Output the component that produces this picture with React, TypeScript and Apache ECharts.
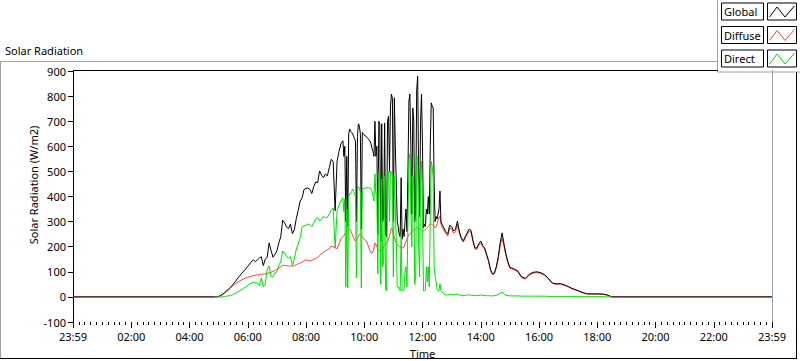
import React, { useEffect, useRef } from "react";
import * as echarts from "echarts";

// ---------- data (time in minutes after midnight) ----------
const xTickLabels = ["23:59", "02:00", "04:00", "06:00", "08:00", "10:00", "12:00", "14:00", "16:00", "18:00", "20:00", "22:00", "23:59"];
const seriesNames = ["Global", "Diffuse", "Direct"];

const timeMorning = [0, 288, 292, 296, 300, 304, 308, 312, 316, 320, 324, 328, 332, 336, 340, 344, 348, 352, 356, 360, 364, 368, 372, 376, 380, 384, 388, 392, 396, 400, 404, 408, 412, 416, 420, 424, 428, 432, 436, 440, 444, 448, 452, 456, 460, 464, 468, 472, 476, 480, 484, 488, 492, 496, 500, 504, 508, 512, 516, 520, 524, 528, 532, 536, 540, 544, 548, 552, 556];
const globalMorning = [0, 0, 0, 0, 2, 5, 10, 16, 24, 30, 38, 46, 55, 65, 76, 85, 95, 103, 112, 122, 131, 142, 147, 140, 148, 155, 160, 125, 150, 158, 215, 185, 158, 170, 183, 215, 240, 305, 295, 278, 272, 290, 252, 268, 312, 345, 382, 395, 428, 432, 434, 428, 412, 440, 458, 455, 502, 485, 475, 490, 482, 515, 548, 540, 343, 540, 580, 610, 622];
const diffuseMorning = [0, 0, 0, 0, 2, 5, 10, 15, 22, 27, 34, 42, 48, 54, 60, 64, 68, 72, 75, 78, 80, 83, 85, 86, 88, 88, 90, 91, 92, 94, 96, 98, 102, 105, 110, 114, 120, 126, 125, 124, 123, 123, 122, 124, 128, 132, 135, 138, 145, 147, 145, 143, 145, 150, 153, 157, 165, 172, 178, 183, 188, 192, 203, 200, 195, 192, 210, 232, 240];
const directMorning = [null, null, 0, 0, 0, 0, 0, 1, 3, 4, 5, 8, 12, 15, 20, 25, 30, 35, 40, 46, 52, 55, 58, 56, 55, 44, 76, 40, 52, 110, 123, 80, 80, 96, 100, 125, 140, 183, 175, 160, 155, 160, 125, 150, 190, 210, 235, 280, 283, 285, 290, 288, 280, 295, 310, 315, 302, 310, 320, 315, 318, 330, 345, 355, 195, 343, 365, 382, 395];

const timeMidday = [558, 560, 562, 564, 566, 568, 570, 572, 574, 576, 578, 580, 582, 584, 586, 588, 590, 592, 594, 596, 598, 600, 602, 604, 606, 608, 610, 612, 614, 616, 618, 620, 622, 624, 626, 628, 630, 632, 634, 636, 638, 640, 642, 644, 646, 648, 650, 652, 654, 656, 658, 660, 662, 664, 666, 668, 670, 672, 674, 676, 678, 680, 682, 684, 686, 688, 690, 692, 694, 696, 698, 700, 702, 704, 706, 708, 710, 712, 714, 716, 718, 720, 722, 724, 726, 728, 730, 732, 734, 736, 738, 740, 742, 744, 746, 748, 750, 752, 754, 756, 758, 760];
const globalMidday = [560, 600, 300, 560, 280, 650, 669, 660, 655, 649, 640, 630, 620, 300, 640, 690, 680, 650, 270, 655, 650, 645, 641, 640, 635, 630, 625, 620, 610, 590, 580, 560, 700, 560, 600, 250, 700, 690, 220, 690, 300, 320, 693, 250, 240, 700, 720, 500, 760, 808, 790, 300, 793, 600, 450, 300, 280, 250, 240, 475, 230, 270, 240, 300, 350, 260, 500, 780, 808, 600, 330, 753, 700, 300, 350, 820, 880, 500, 320, 700, 808, 600, 275, 290, 280, 350, 330, 400, 330, 600, 773, 760, 753, 450, 300, 320, 310, 330, 350, 422, 300, 290];
const diffuseMidday = [245, 250, 255, 262, 265, 268, 271, 265, 255, 245, 235, 225, 225, 230, 235, 240, 250, 250, 245, 240, 235, 230, 225, 223, 215, 205, 195, 183, 176, 175, 180, 195, 215, 210, 200, 190, 185, 183, 183, 185, 190, 200, 205, 210, 215, 220, 230, 245, 260, 275, 270, 250, 240, 225, 215, 211, 205, 200, 198, 196, 195, 195, 200, 210, 220, 230, 240, 248, 251, 255, 260, 265, 268, 270, 272, 275, 275, 272, 270, 268, 265, 263, 263, 265, 268, 272, 276, 280, 285, 290, 290, 288, 285, 280, 275, 280, 290, 305, 315, 322, 290, 280];
const directMidday = [340, 390, 40, 350, 36, 400, 410, 410, 420, 430, 420, 410, 400, 76, 435, 440, 430, 420, 36, 430, 430, 435, 430, 435, 435, 435, 435, 434, 430, 420, 400, 382, 490, 410, 410, 92, 500, 500, 50, 470, 120, 143, 480, 30, 24, 500, 500, 300, 500, 500, 480, 80, 480, 350, 230, 40, 40, 30, 24, 250, 24, 24, 30, 100, 120, 40, 300, 540, 570, 350, 200, 480, 450, 50, 80, 560, 560, 200, 80, 450, 540, 340, 24, 24, 30, 120, 60, 120, 40, 320, 540, 520, 470, 120, 80, 60, 30, 24, 24, 52, 24, 20];

const timeAfternoon = [764, 768, 772, 776, 780, 784, 788, 792, 796, 800, 804, 808, 812, 816, 820, 824, 828, 832, 836, 840, 844, 848, 852, 856, 860, 864, 868, 872, 876, 880, 884, 888, 892, 896, 900, 908, 916, 924, 932, 940, 948, 956, 964, 972, 980, 988, 996, 1004, 1012, 1020, 1028, 1036, 1044, 1052, 1060, 1068, 1076, 1084, 1092, 1100, 1106, 1110, 1440];
const globalAfternoon = [275, 260, 250, 285, 280, 262, 270, 302, 260, 235, 223, 240, 255, 270, 265, 225, 195, 195, 212, 223, 205, 195, 170, 145, 110, 92, 96, 120, 160, 215, 255, 210, 170, 140, 118, 112, 104, 80, 74, 90, 98, 100, 96, 88, 72, 55, 52, 53, 48, 42, 34, 28, 22, 16, 12, 12, 12, 12, 11, 8, 3, 0, 0];
const diffuseAfternoon = [265, 252, 242, 275, 270, 254, 260, 290, 252, 230, 218, 234, 247, 262, 258, 219, 190, 190, 206, 215, 199, 190, 165, 140, 106, 88, 91, 114, 150, 201, 235, 200, 164, 135, 114, 108, 100, 77, 71, 87, 95, 97, 93, 85, 70, 53, 50, 51, 46, 40, 32, 27, 21, 15, 11, 11, 11, 11, 10, 8, 3, 0, 0];
const directAfternoon = [12, 8, 8, 10, 10, 8, 10, 12, 8, 5, 5, 6, 8, 8, 7, 6, 5, 5, 6, 8, 6, 5, 5, 5, 4, 4, 5, 6, 10, 14, 20, 10, 6, 5, 4, 4, 4, 3, 3, 3, 3, 3, 3, 3, 2, 2, 2, 2, 2, 2, 2, 1, 1, 1, 1, 1, 1, 1, 1, 0, 0, 0, null];

const yTicks = { min: -100, max: 900, step: 100 };
const colors = ["#000000", "#ff4040", "#00e000"];

const FONT = "'Noto Sans', 'DejaVu Sans', sans-serif";

function pairs(times: number[], vals: (number | null)[]) {
  return times.map((t, i) => [t, vals[i]]);
}

export default function App() {
  const ref = useRef<HTMLDivElement>(null);
  useEffect(() => {
    if (!ref.current) return;
    const chart = echarts.init(ref.current, undefined, { renderer: "svg" });
    const times = [...timeMorning, ...timeMidday, ...timeAfternoon];
    const glob = [...globalMorning, ...globalMidday, ...globalAfternoon];
    const diff = [...diffuseMorning, ...diffuseMidday, ...diffuseAfternoon];
    const dir = [...directMorning, ...directMidday, ...directAfternoon];

    const legendItems: any[] = [];
    seriesNames.forEach((name, i) => {
      const top = 3 + i * 23.5;
      legendItems.push(
        { type: "rect", shape: { x: 721.5, y: top, width: 42, height: 17 }, style: { fill: "#fff", stroke: "#000", lineWidth: 1 } },
        { type: "text", x: 724, y: top + 8.5, style: { text: name, fill: "#000", font: `11px ${FONT}`, verticalAlign: "middle", align: "left" } },
        { type: "rect", shape: { x: 767.5, y: top, width: 29, height: 17 }, style: { fill: "#fff", stroke: "#000", lineWidth: 1 } },
        {
          type: "polyline",
          shape: { points: [[769.5, top + 14], [777, top + 4], [785, top + 14], [794.5, top + 3]] },
          style: { stroke: colors[i], lineWidth: 1, fill: null },
        }
      );
    });

    chart.setOption({
      animation: false,
      backgroundColor: "#fff",
      grid: { left: 73, top: 71, right: 28, bottom: 39, containLabel: false },
      xAxis: {
        type: "value",
        min: 0,
        max: 1440,
        interval: 120,
        axisLine: { show: false, onZero: false },
        axisTick: { show: true, length: 6, lineStyle: { color: "#000", width: 1 } },
        minorTick: { show: true, splitNumber: 10, length: 3, lineStyle: { color: "#000", width: 1 } },
        splitLine: { show: false },
        axisLabel: {
          color: "#000",
          fontFamily: FONT,
          fontSize: 11,
          margin: 9,
          showMinLabel: true,
          showMaxLabel: true,
          formatter: (v: number) => xTickLabels[Math.round(v / 120)] ?? "",
        },
      },
      yAxis: {
        type: "value",
        min: yTicks.min,
        max: yTicks.max,
        interval: yTicks.step,
        axisLine: { show: true, lineStyle: { color: "#000", width: 1 } },
        axisTick: { show: true, length: 5, lineStyle: { color: "#000" } },
        splitLine: { show: false },
        axisLabel: { color: "#000", fontFamily: FONT, fontSize: 11, margin: 7 },
      },
      series: [
        { name: seriesNames[1], type: "line", data: pairs(times, diff), showSymbol: false, symbol: "none", lineStyle: { color: colors[1], width: 1 }, itemStyle: { color: colors[1] } },
        { name: seriesNames[0], type: "line", data: pairs(times, glob), showSymbol: false, symbol: "none", lineStyle: { color: colors[0], width: 1 }, itemStyle: { color: colors[0] } },
        { name: seriesNames[2], type: "line", data: pairs(times, dir), showSymbol: false, symbol: "none", lineStyle: { color: colors[2], width: 1 }, itemStyle: { color: colors[2] } },
      ],
      graphic: [
        // outer frame
        { type: "line", shape: { x1: 0, y1: 61.5, x2: 718, y2: 61.5 }, style: { stroke: "#a0a0a0", lineWidth: 1 }, z: 10 },
        { type: "line", shape: { x1: 0.5, y1: 61, x2: 0.5, y2: 359 }, style: { stroke: "#a0a0a0", lineWidth: 1 }, z: 10 },
        { type: "line", shape: { x1: 0, y1: 358.5, x2: 797, y2: 358.5 }, style: { stroke: "#000", lineWidth: 1 }, z: 10 },
        { type: "line", shape: { x1: 796.5, y1: 72, x2: 796.5, y2: 359 }, style: { stroke: "#000", lineWidth: 1 }, z: 10 },
        // plot border
        { type: "line", shape: { x1: 73, y1: 70.5, x2: 718, y2: 70.5 }, style: { stroke: "#000", lineWidth: 1 }, z: 10 },
        { type: "line", shape: { x1: 772.5, y1: 70, x2: 772.5, y2: 322 }, style: { stroke: "#a0a0a0", lineWidth: 1 }, z: 10 },
        // titles
        { type: "text", x: 5, y: 50, style: { text: "Solar Radiation", fill: "#000", font: `11px ${FONT}`, verticalAlign: "middle", align: "left" }, z: 10 },
        { type: "text", x: 33, y: 185, rotation: Math.PI / 2, style: { text: "Solar Radiation (W/m2)", fill: "#000", font: `11px ${FONT}`, verticalAlign: "middle", align: "center" }, z: 10 },
        { type: "text", x: 422.5, y: 353, style: { text: "Time", fill: "#000", font: `11px ${FONT}`, verticalAlign: "middle", align: "center" }, z: 10 },
        // legend panel
        {
          type: "group",
          z: 20,
          children: [
            { type: "rect", shape: { x: 717.5, y: -2, width: 90, height: 74 }, style: { fill: "#fff", stroke: "#a0a0a0", lineWidth: 1 } },
            ...legendItems,
          ],
        },
      ],
    });
    return () => chart.dispose();
  }, []);
  return (
    <div style={{ position: "fixed", left: 0, top: 0, width: 800, height: 361, background: "#fff" }}>
      <div ref={ref} style={{ width: 800, height: 361 }} />
    </div>
  );
}
